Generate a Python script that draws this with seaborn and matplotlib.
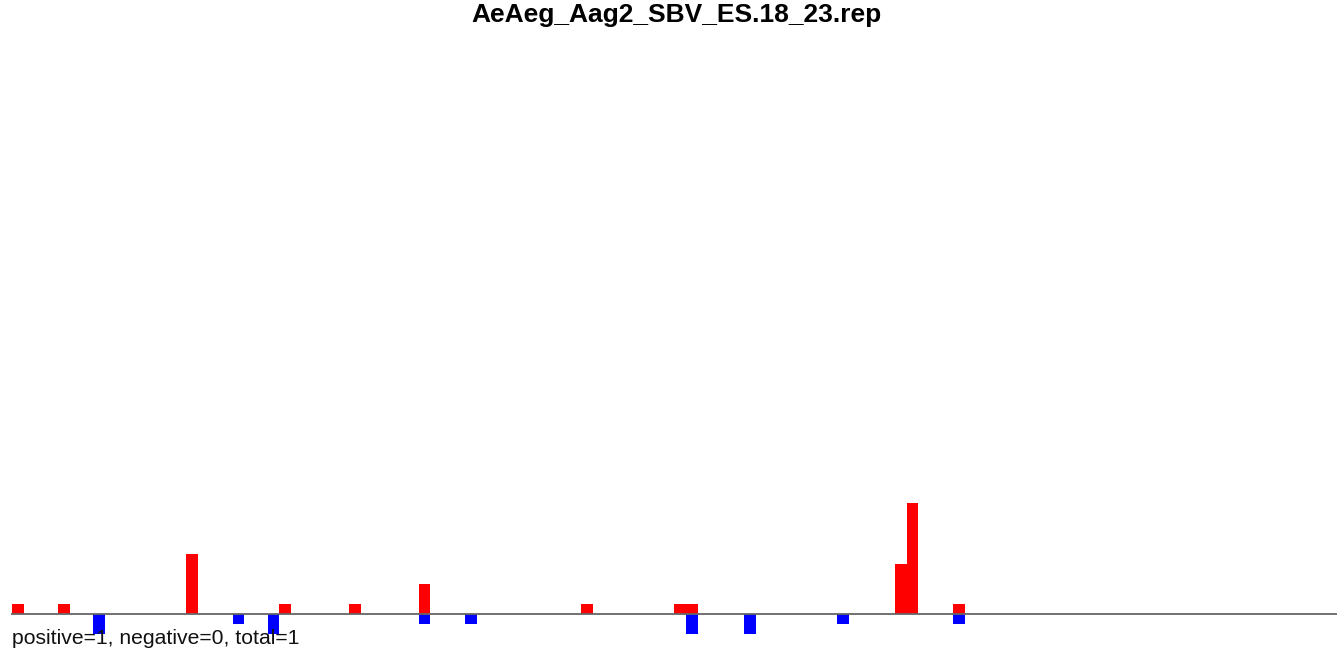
import matplotlib
matplotlib.use("Agg")
import matplotlib.pyplot as plt
import pandas as pd
import seaborn as sns

# bin index of each bar and read-count heights
pos_bins = [0, 4, 15, 23, 29, 35, 49, 57, 58, 76, 77, 81]
pos_vals = [1, 1, 6, 1, 1, 3, 1, 1, 1, 5, 11, 1]
neg_bins = [7, 19, 22, 35, 39, 58, 63, 71, 81]
neg_vals = [-2, -1, -2, -1, -1, -2, -2, -1, -1]

title = "AeAeg_Aag2_SBV_ES.18_23.rep"
note = "positive=1, negative=0, total=1"

df = pd.concat([
	pd.DataFrame({"bin": pos_bins, "count": pos_vals, "strand": "pos"}),
	pd.DataFrame({"bin": neg_bins, "count": neg_vals, "strand": "neg"}),
])

sns.set_style("white")
plt.rcParams["font.family"] = ["Liberation Sans", "DejaVu Sans"]

W, H = 1337, 651
fig = plt.figure(figsize=(W / 100, H / 100), dpi=100)
ax = fig.add_axes([11 / W, 0, 1 - 11 / W, 1 - 40 / H])

sns.barplot(data=df, x="bin", y="count", hue="strand",
	palette={"pos": "#ff0000", "neg": "#0000ff"}, dodge=False,
	native_scale=True, width=1, saturation=1, errorbar=None,
	linewidth=0, legend=False, ax=ax)

ax.axhline(0, color="#666666", lw=1.3)
xl = -0.5 - 1 / 11.62
ax.set_xlim(xl, xl + (W - 11) / 11.62)
ax.set_ylim(-3.65, -3.65 + (H - 40) / 10.1)
for s in ax.spines.values():
	s.set_visible(False)
ax.set_xticks([])
ax.set_yticks([])
ax.set_xlabel(None)
ax.set_ylabel(None)

fig.text(676 / W, 1 - 15 / H, title, ha="center", va="center",
	fontsize=19, fontweight="bold", color="black")
fig.text(12 / W, 1 - 638 / H, note, ha="left", va="center",
	fontsize=15.2, color="#111111")

fig.savefig("out.png", dpi=100)
